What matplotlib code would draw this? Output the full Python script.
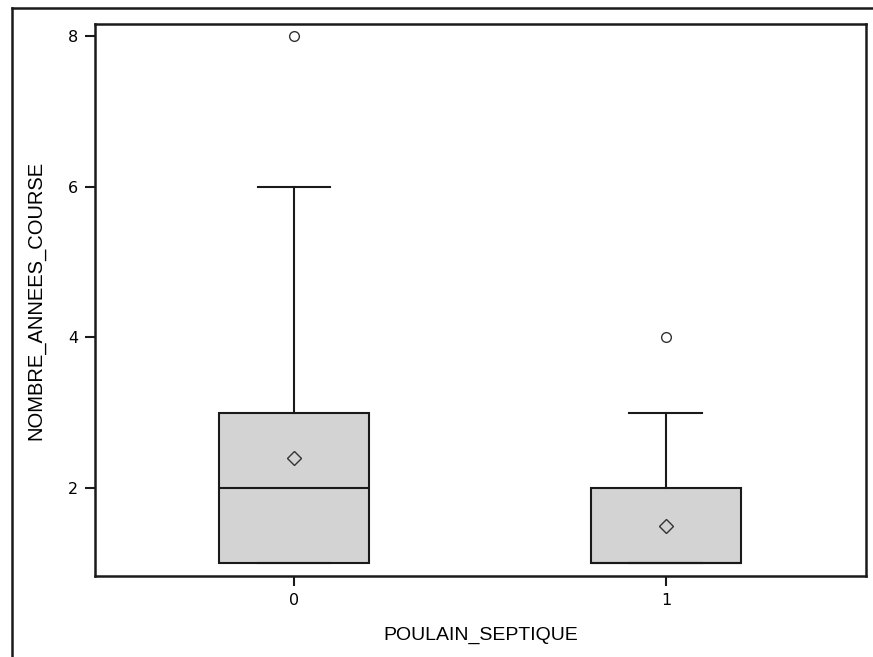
import matplotlib.pyplot as plt
from matplotlib.lines import Line2D

# box statistics
groups = ['0', '1']
q1 = [1, 1]
medians = [2, 1]
q3 = [3, 2]
whisker_low = [1, 1]
whisker_high = [6, 3]
means = [2.4, 1.5]
outliers = [[8], [4]]

y_ticks = [2, 4, 6, 8]

stats = []
for i in range(len(groups)):
    stats.append({'label': groups[i], 'q1': q1[i], 'med': medians[i], 'q3': q3[i],
                  'whislo': whisker_low[i], 'whishi': whisker_high[i],
                  'mean': means[i], 'fliers': outliers[i]})

fig = plt.figure(figsize=(8.73, 6.57), dpi=100)
ax = fig.add_axes([95 / 873, 1 - 576 / 657, 771 / 873, 552 / 657])

line_col = '#1a1a1a'
ax.bxp(stats, positions=[0, 1], widths=0.403, patch_artist=True, showmeans=True,
       boxprops=dict(facecolor='#d3d3d3', edgecolor=line_col, linewidth=1.5),
       medianprops=dict(color=line_col, linewidth=1.5),
       whiskerprops=dict(color=line_col, linewidth=1.5),
       capprops=dict(color=line_col, linewidth=1.5),
       capwidths=0.196,
       meanprops=dict(marker='D', markerfacecolor='none', markeredgecolor='#333333',
                      markersize=7, markeredgewidth=1),
       flierprops=dict(marker='o', markerfacecolor='none', markeredgecolor='#333333',
                       markersize=7, markeredgewidth=1))

ax.set_xlim(-0.535, 1.538)
ax.set_ylim(0.831, 8.16)
ax.set_yticks(y_ticks)
ax.set_yticklabels([str(v) for v in y_ticks])
ax.tick_params(labelsize=11.5, length=7, width=1.5, color=line_col, pad=5)
for sp in ax.spines.values():
    sp.set_linewidth(1.8)
    sp.set_color(line_col)

ax.set_xlabel('POULAIN_SEPTIQUE', family='Liberation Sans', fontsize=14, labelpad=14)
ax.set_ylabel('NOMBRE_ANNEES_COURSE', family='Liberation Sans', fontsize=14.5, labelpad=16)

# outer frame of the page
fig.add_artist(Line2D([12 / 873, 12 / 873], [0, 1 - 8 / 657], transform=fig.transFigure,
                      color=line_col, linewidth=1.8))
fig.add_artist(Line2D([12 / 873, 1], [1 - 8 / 657, 1 - 8 / 657], transform=fig.transFigure,
                      color=line_col, linewidth=1.8))

fig.savefig('out.png', dpi=100)
